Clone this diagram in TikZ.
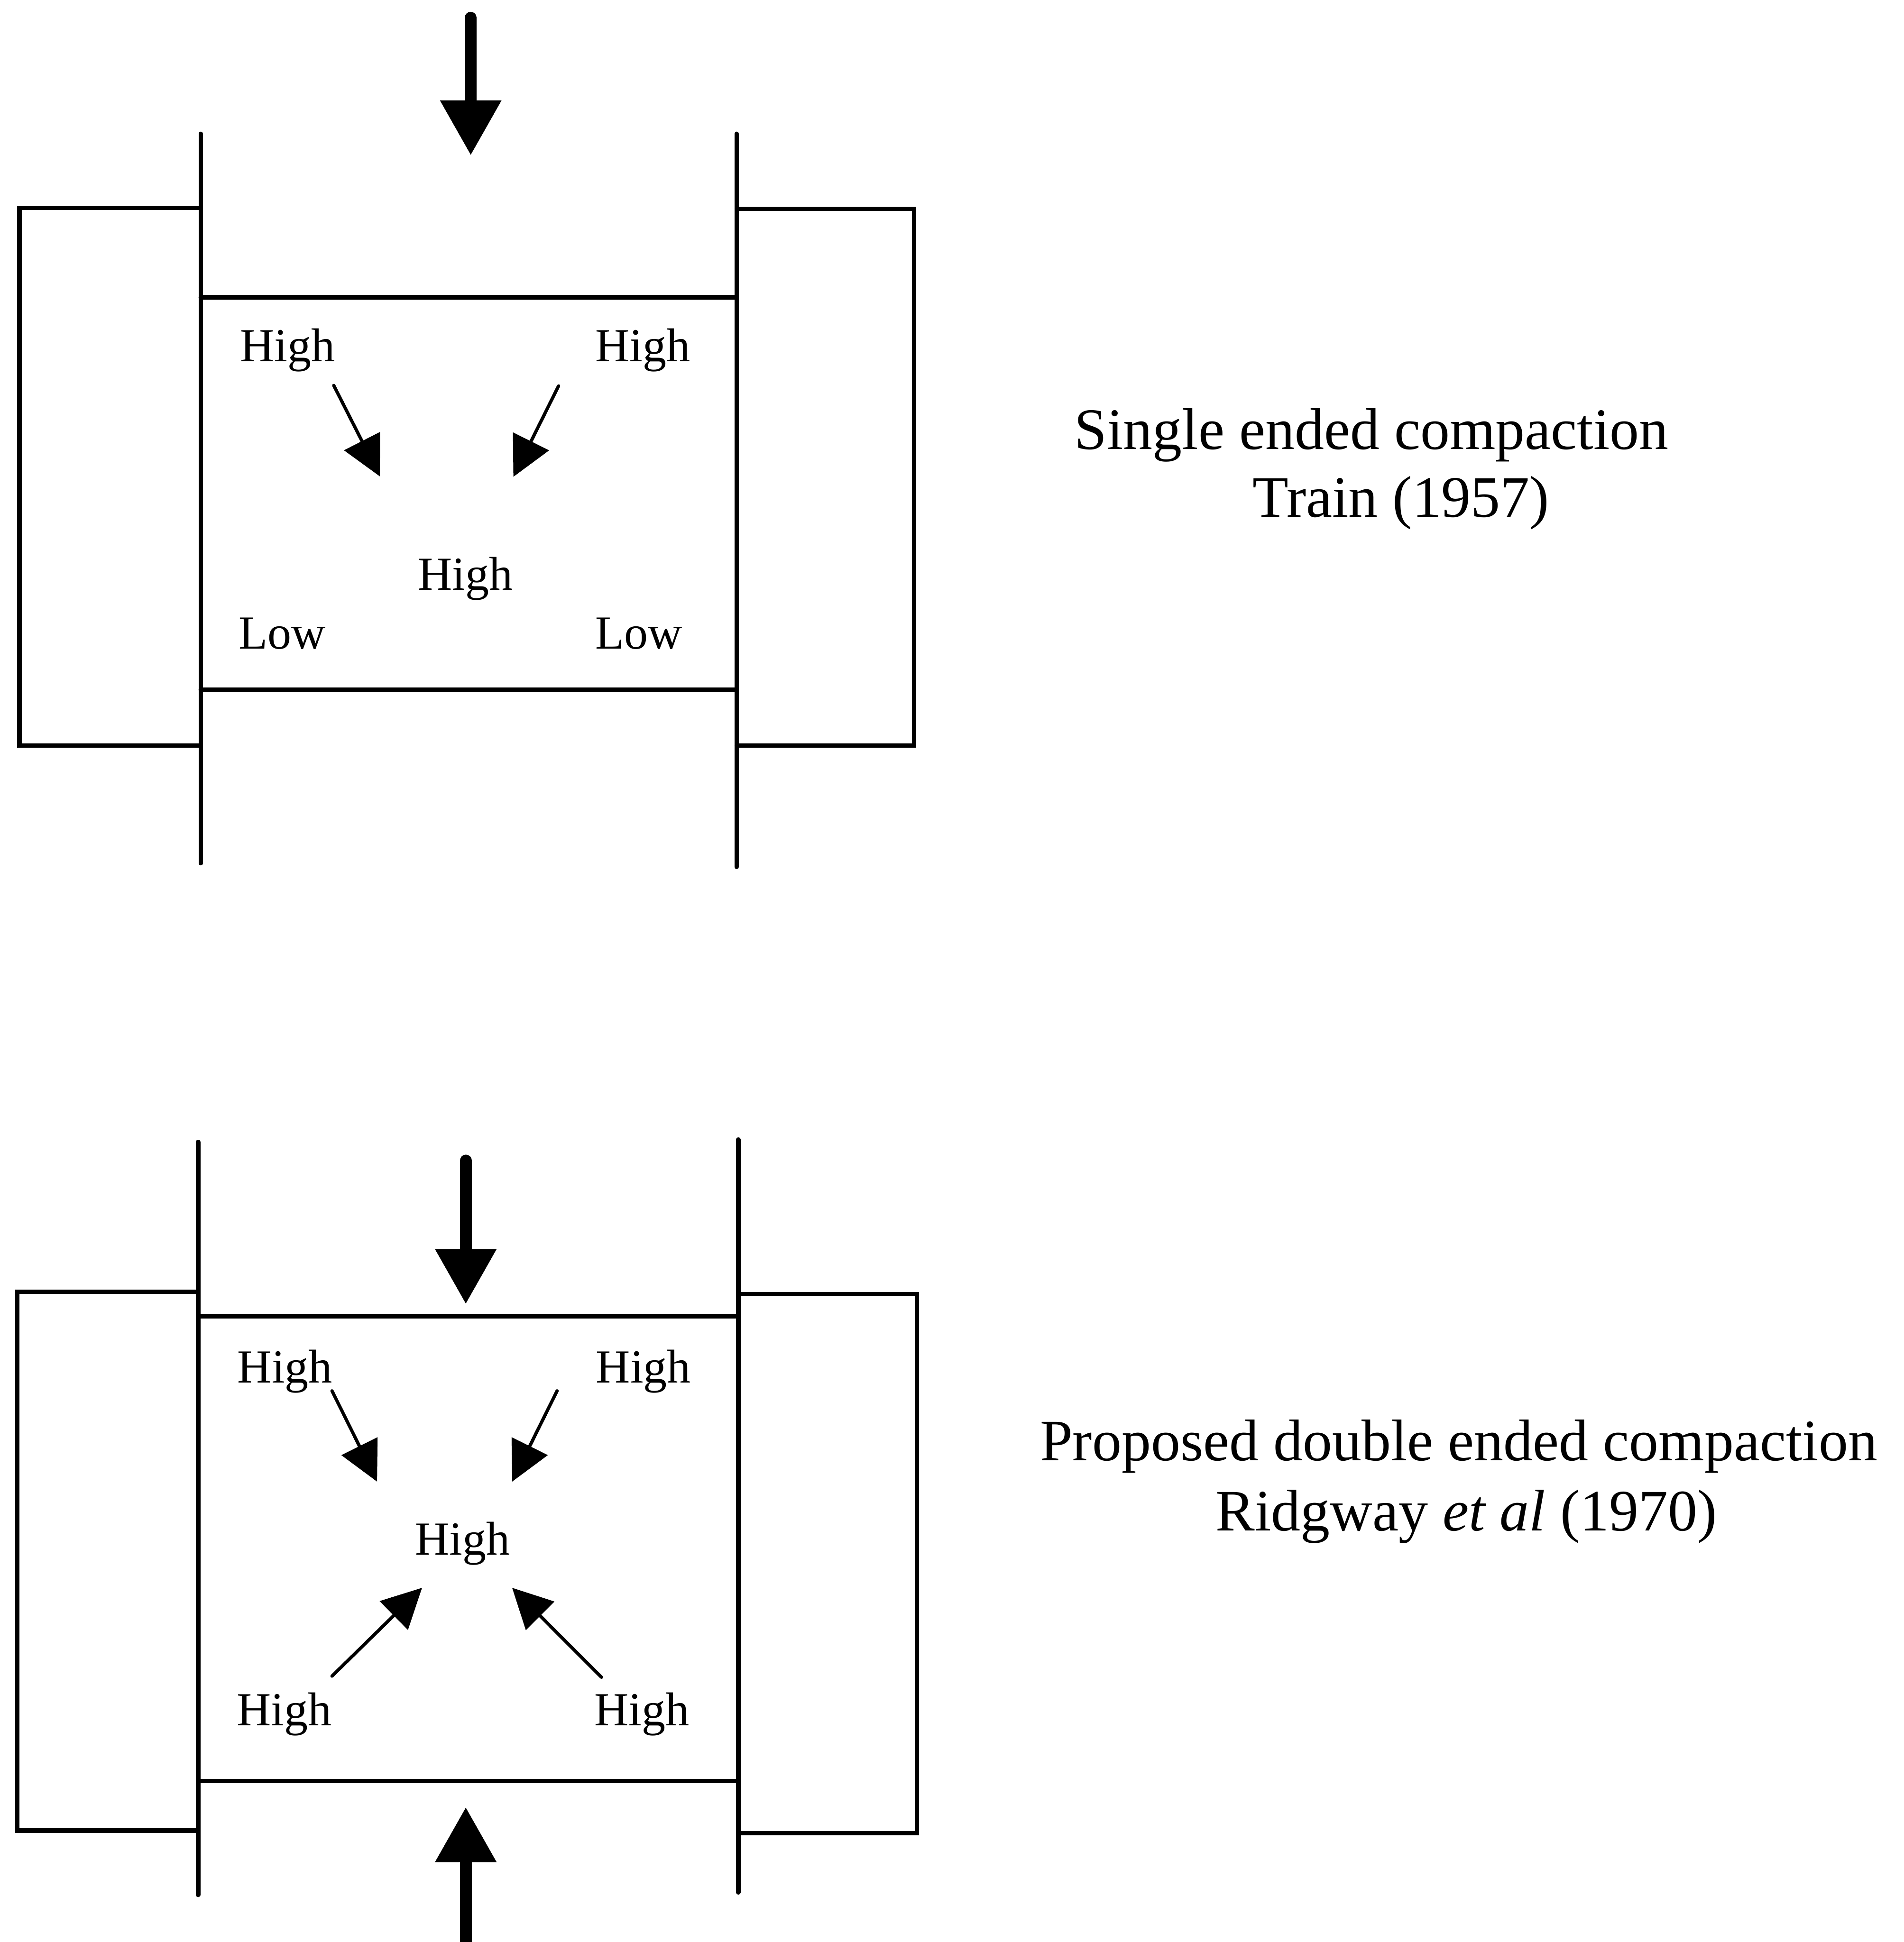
\documentclass[tikz,border=0pt]{standalone}
\usepackage{fontspec}
\setmainfont{Liberation Serif}
\usepackage{tkz-euclide}
\usetikzlibrary{arrows.meta}
\tikzset{
  lbl/.style={font=\fontsize{10.9}{13}\selectfont,inner sep=0pt},
  captxt/.style={font=\fontsize{13.5}{16}\selectfont,inner sep=0pt,anchor=base},
  ram/.style={line width=2.7pt,-{Triangle[width=4.7mm,length=4.45mm]}},
  flow/.style={line width=0.75pt,-{Triangle[width=3.2mm,length=3.2mm]}}
}

\begin{document}
\begin{tikzpicture}
\useasboundingbox (0,0) rectangle (15.37,-15.68);
\tkzSetUpLine[line width=1pt,color=black]

% single ended
\tkzDefPoints{1.62/-1.08/LWt,1.62/-6.97/LWb,5.947/-1.08/RWt,5.947/-7.00/RWb}
\tkzDefPoints{0.157/-1.68/LBb,0.157/-6.02/LBc,1.62/-1.68/LBa,1.62/-6.02/LBd}
\tkzDefPoints{7.38/-1.685/RBb,7.38/-6.02/RBc,5.947/-1.685/RBa,5.947/-6.02/RBd}
\tkzDefPoints{1.62/-2.40/CTl,5.947/-2.40/CTr,1.62/-5.57/CBl,5.947/-5.57/CBr}
\tkzDefPoints{3.80/-0.143/Ps,3.80/-1.255/Pe}
\tkzDefPoints{2.694/-3.112/As,3.067/-3.847/Ae,4.509/-3.116/Bs,4.144/-3.850/Be}

\tkzDrawSegments(LWt,LWb RWt,RWb CTl,CTr CBl,CBr)
\tkzDrawPolySeg(LBa,LBb,LBc,LBd)
\tkzDrawPolySeg(RBa,RBb,RBc,RBd)
\tkzDrawSegments[ram](Ps,Pe)
\tkzDrawSegments[flow](As,Ae Bs,Be)

\node[lbl,anchor=base west] (hTL) at (1.93,-2.92) {High};
\node[lbl,anchor=base west] (hTR) at (4.80,-2.92) {High};
\node[lbl,anchor=base] (hTM) at (3.758,-4.764) {High};
\node[lbl,anchor=base west] (lTL) at (1.92,-5.238) {Low};
\node[lbl,anchor=base west] (lTR) at (4.80,-5.238) {Low};

\node[captxt] (capA) at (11.07,-3.626) {Single ended compaction};
\node[captxt] (refA) at (11.31,-4.176) {Train (1957)};

% double ended
\tkzDefPoints{1.60/-9.22/lWt,1.60/-15.30/lWb,5.96/-9.20/rWt,5.96/-15.28/rWb}
\tkzDefPoints{0.14/-10.43/lBb,0.14/-14.78/lBc,1.60/-10.43/lBa,1.60/-14.78/lBd}
\tkzDefPoints{7.40/-10.45/rBb,7.40/-14.80/rBc,5.96/-10.45/rBa,5.96/-14.80/rBd}
\tkzDefPoints{1.60/-10.63/cTl,5.96/-10.63/cTr,1.60/-14.38/cBl,5.96/-14.38/cBr}
\tkzDefPoints{3.76/-9.37/Us,3.76/-10.53/Ue,3.76/-15.80/Ds,3.76/-14.59/De}
\tkzDefPoints{2.68/-11.23/as,3.044/-11.963/ae,4.497/-11.23/bs,4.134/-11.963/be}
\tkzDefPoints{2.68/-13.533/cs,3.407/-12.82/ce,4.855/-13.542/ds,4.134/-12.82/de}

\tkzDrawSegments(lWt,lWb rWt,rWb cTl,cTr cBl,cBr)
\tkzDrawPolySeg(lBa,lBb,lBc,lBd)
\tkzDrawPolySeg(rBa,rBb,rBc,rBd)
\tkzDrawSegments[ram](Us,Ue Ds,De)
\tkzDrawSegments[flow](as,ae bs,be cs,ce ds,de)

\node[lbl,anchor=base west] (hBTL) at (1.91,-11.166) {High};
\node[lbl,anchor=base west] (hBTR) at (4.804,-11.166) {High};
\node[lbl,anchor=base] (hBM) at (3.734,-12.556) {High};
\node[lbl,anchor=base west] (hBBL) at (1.906,-13.934) {High};
\node[lbl,anchor=base west] (hBBR) at (4.79,-13.934) {High};

\node[captxt] (capB) at (11.775,-11.793) {Proposed double ended compaction};
\node[captxt] (refB) at (11.837,-12.36) {Ridgway \textit{et al} (1970)};
\end{tikzpicture}
\end{document}
